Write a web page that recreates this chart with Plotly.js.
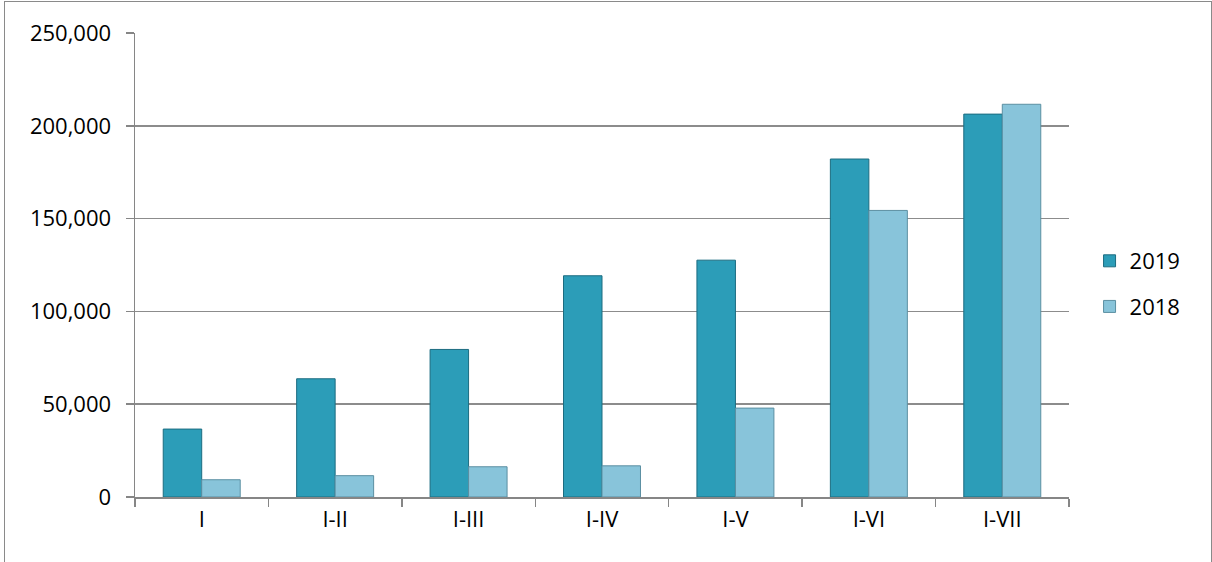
<!DOCTYPE html>
<html>
<head>
<meta charset="utf-8">
<script src="https://cdn.plot.ly/plotly-3.0.1.min.js"></script>
<style>
  html, body { margin: 0; padding: 0; background: #fff; overflow: hidden; }
  #wrap { position: relative; width: 1212px; height: 562px; }
  #chart { position: absolute; left: 0; top: 0; width: 1212px; height: 562px; }
  #frame { position: absolute; left: 4px; top: 1px; width: 1206px; height: 600px;
           border: 1px solid #8a8a8a; pointer-events: none; }
</style>
</head>
<body>
<div id="wrap">
  <div id="chart"></div>
  <div id="frame"></div>
</div>
<script>
const categories = ["I", "I-II", "I-III", "I-IV", "I-V", "I-VI", "I-VII"];
const values2019 = [36600, 63700, 79500, 119200, 127600, 182100, 206300];
const values2018 = [9300, 11500, 16300, 16800, 47900, 154400, 211600];
const seriesNames = ["2019", "2018"];
const yTickVals = [0, 50000, 100000, 150000, 200000, 250000];

const FONT = "Open Sans, Lato, sans-serif";
const FS = 22;

const traces = [
  {
    type: "bar", name: seriesNames[0], x: categories, y: values2019,
    legendgroup: "a",
    marker: { color: "#2C9DB8", line: { color: "#1C6C80", width: 1 } },
    hoverinfo: "skip"
  },
  {
    type: "bar", name: seriesNames[1], x: categories, y: values2018,
    legendgroup: "b",
    marker: { color: "#88C4DA", line: { color: "#5B8FA2", width: 1 } },
    hoverinfo: "skip"
  }
];

const layout = {
  width: 1212, height: 562,
  margin: { l: 135, r: 143, t: 33, b: 65, pad: 0 },
  paper_bgcolor: "#ffffff", plot_bgcolor: "#ffffff",
  font: { family: FONT, size: FS, color: "#000000" },
  barmode: "group",
  bargap: 0.423, bargroupgap: 0,
  showlegend: true,
  legend: {
    x: 1.022, xanchor: "left", y: 0.459, yanchor: "middle",
    font: { family: FONT, size: FS, color: "#000000" },
    tracegroupgap: 14, bgcolor: "rgba(0,0,0,0)"
  },
  xaxis: {
    type: "category", tickson: "boundaries",
    ticks: "outside", ticklen: 8, tickcolor: "#868686", tickwidth: 1.5,
    showline: true, linecolor: "#868686", linewidth: 1.5,
    showgrid: false, zeroline: false,
    ticklabelstandoff: 2,
    tickfont: { family: FONT, size: FS, color: "#000000" },
    fixedrange: true
  },
  yaxis: {
    range: [0, 250000], tickvals: yTickVals, tickformat: ",d",
    ticks: "outside", ticklen: 8, tickcolor: "#868686", tickwidth: 1.5,
    showline: true, linecolor: "#868686", linewidth: 1.5,
    showgrid: true, gridcolor: "#8c8c8c", gridwidth: 1.5,
    zeroline: false,
    ticklabelstandoff: 10,
    tickfont: { family: FONT, size: FS, color: "#000000" },
    fixedrange: true
  },
  hovermode: false
};

Plotly.newPlot("chart", traces, layout, { staticPlot: true, displayModeBar: false });
</script>
</body>
</html>
